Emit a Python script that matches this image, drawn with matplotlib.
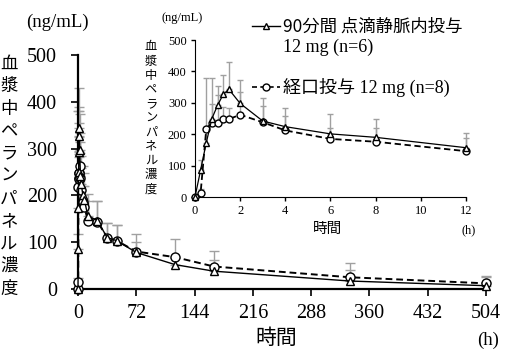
import numpy as np
import matplotlib
matplotlib.use('Agg')
import matplotlib.pyplot as plt
from matplotlib.lines import Line2D

plt.rcParams['font.family'] = ['Liberation Serif', 'Noto Sans CJK JP']

# 時間 (h)
t = [0, 0.25, 0.5, 0.75, 1, 1.25, 1.5, 2, 3, 4, 6, 8, 12, 24, 36, 48, 72, 120, 168, 336, 504]
# 90分間 点滴静脈内投与 12 mg (n=6)
iv_mean = [0, 86, 173, 250, 292, 327, 343, 298, 242, 224, 201, 190, 157, 146, 110, 103, 78, 52, 38, 17, 7]
iv_sd = [0, 32, 40, 45, 62, 61, 87, 75, 72, 60, 62, 57, 46, 42, 32, 34, 40, 15, 23, 24, 18]
# 経口投与 12 mg (n=8)
po_mean = [0, 14, 217, 237, 235, 248, 248, 262, 238, 212, 185, 176, 146, 144, 110, 103, 80, 68, 48, 25, 12]
po_sd = [0, 10, 163, 143, 90, 40, 35, 71, 53, 47, 34, 43, 41, 44, 32, 34, 20, 38, 33, 30, 16]

main_xticks = [0, 72, 144, 216, 288, 360, 432, 504]
main_yticks = [0, 100, 200, 300, 400, 500]
inset_xticks = [0, 2, 4, 6, 8, 10, 12]

ylab = '\n'.join('血漿中ペランパネル濃度')
jp = ['Noto Sans CJK JP']

fig = plt.figure(figsize=(5.26, 3.63), dpi=100)


def draw(ax, tmax, ms_tri, ms_circ, cap, lw_line):
    n = sum(1 for v in t if v <= tmax)
    x = t[:n]
    zeros = np.zeros(n)
    ax.errorbar(x, po_mean[:n], yerr=[zeros, po_sd[:n]], fmt='none', ecolor='#a0a0a0',
                elinewidth=1, capsize=cap, capthick=1, zorder=1, clip_on=False)
    ax.errorbar(x, iv_mean[:n], yerr=[zeros, iv_sd[:n]], fmt='none', ecolor='#a0a0a0',
                elinewidth=1, capsize=cap, capthick=1, zorder=1, clip_on=False)
    ax.plot(x, po_mean[:n], ls=(0, (3.5, 2)), color='black', lw=lw_line + 0.4, marker='o',
            ms=ms_circ, mfc='white', mec='black', mew=1, zorder=3, clip_on=False)
    ax.plot(x, iv_mean[:n], ls='-', color='black', lw=lw_line, marker='^',
            ms=ms_tri, mfc='white', mec='black', mew=1, zorder=4, clip_on=False)
    for s in ['top', 'right']:
        ax.spines[s].set_visible(False)


# メインの図
ax = fig.add_axes([0.1483, 0.2039, 0.7757, 0.6446])
draw(ax, 504, 5.5, 6.5, 3.5, 1.0)
ax.set_xlim(0, 504)
ax.set_ylim(0, 500)
ax.set_xticks(main_xticks)
ax.set_yticks(main_yticks)
ax.spines['left'].set_linewidth(1.6)
ax.spines['bottom'].set_linewidth(1.6)
ax.tick_params(direction='out', length=5, width=1.2, labelsize=14.5, pad=6)
ax.tick_params(axis='y', pad=10)
fig.text(0.110, 0.939, '(ng/mL)', fontsize=13.5, ha='center', va='center')
fig.text(0.017, 0.515, ylab, fontsize=12.5, ha='center', va='center',
         family=jp, linespacing=1.32)
fig.text(0.525, 0.069, '時間', fontsize=15, ha='center', va='center', family=jp)
fig.text(0.928, 0.063, '(h)', fontsize=13.5, ha='center', va='center')

# 0-12時間の拡大図
ins = fig.add_axes([0.3707, 0.4573, 0.5152, 0.4325])
draw(ins, 12, 4, 5, 2.5, 0.9)
ins.set_xlim(0, 12)
ins.set_ylim(0, 500)
ins.set_xticks(inset_xticks)
ins.set_yticks(main_yticks)
ins.patch.set_alpha(0)
ins.tick_params(direction='out', length=3, width=1, labelsize=9, pad=3)
fig.text(0.346, 0.950, '(ng/mL)', fontsize=9, ha='center', va='center')
fig.text(0.287, 0.675, ylab, fontsize=8.8, ha='center', va='center',
         family=jp, linespacing=1.12)
fig.text(0.623, 0.369, '時間', fontsize=10.5, ha='center', va='center', family=jp)
fig.text(0.890, 0.366, '(h)', fontsize=9, ha='center', va='center')

# 凡例
h_iv = Line2D([], [], color='black', lw=1, marker='^', ms=4, mfc='white', mec='black')
h_po = Line2D([], [], color='black', lw=1.2, ls=(0, (3, 2)), marker='o', ms=5,
              mfc='white', mec='black')
h_blank = Line2D([], [], color='none')
leg = ins.legend([h_iv, h_blank, h_po],
                 ['90分間 点滴静脈内投与', '12 mg (n=6)\n', '経口投与 12 mg (n=8)'],
                 loc='upper left', bbox_to_anchor=(0.461, 0.975),
                 bbox_transform=fig.transFigure, frameon=False, borderpad=0,
                 handlelength=1.6, handletextpad=0.15, labelspacing=0.15,
                 prop={'size': 13})
leg.get_texts()[0].set_family(jp)
leg.get_texts()[0].set_fontsize(12.5)

fig.savefig('out.png', dpi=100)
